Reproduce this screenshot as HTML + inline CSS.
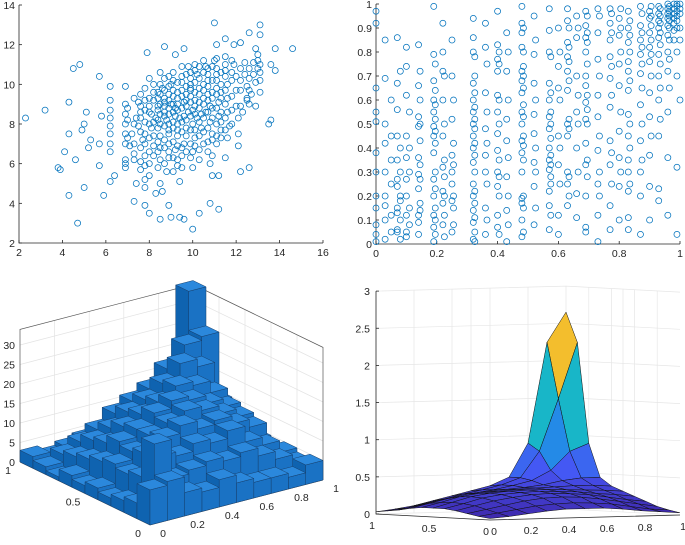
<!DOCTYPE html>
<html><head><meta charset="utf-8"><style>
html,body{margin:0;padding:0;background:#fff;}
svg{display:block;font-family:"Liberation Sans",sans-serif;}
text{font-size:10.5px;fill:#262626;}
</style></head>
<body>
<svg id="fig" width="685" height="545" viewBox="0 0 685 545">
<g id="p1"></g>
<g id="p2"></g>
<g id="p3"></g>
<g id="p4"></g>
</svg>
<script>
// ---------- DATA ----------
const s1X = [2.3,3.2,3.8,3.9,4.1,4.3,4.3,4.3,4.5,4.6,4.7,4.8,4.9,5.0,5.0,5.1,5.2,5.3,5.7,5.7,5.8,5.9,5.7,6.4,6.2,7.3,7.9,8.7,9.2,9.6,11.0,13.1,12.6,13.1,13.8,14.6,13.6,13.8,13.5,13.6,12.6,12.2,11.2,10.8,10.3,10.0,9.6,9.4,9.0,8.5,8.0,7.8,8.3,8.9,8.6,11.5,11.2,10.9,12.1,11.5,12.5,12.9,13.1,12.9,12.2,11.9,11.1,
6.2,6.2,6.2,6.2,6.2,6.2,6.2,6.2,6.9,6.9,6.9,6.9,6.9,6.9,6.9,6.9,6.9,7.8,7.8,7.8,7.8,7.8,7.8,7.8,7.8,7.8,7.8,8.5,8.5,8.5,8.5,8.5,8.5,8.5,8.5,8.5,8.5,
7.2,7.4,7.5,7.1,7.3,7.6,7.4,8.0,8.1,8.2,8.2,8.0,8.3,8.7,8.8,8.9,8.9,8.8,9.0,9.1,9.2,9.1,9.3,9.2,9.3,9.4,9.5,9.5,9.6,9.6,9.7,9.6,9.5,9.8,9.9,9.9,10.0,10.0,10.1,10.0,10.0,10.2,10.3,10.3,10.4,10.4,10.5,10.3,10.6,10.7,10.7,10.8,10.8,10.9,10.7,10.8,11.0,11.1,11.1,11.2,11.2,11.3,11.1,11.5,11.5,11.6,11.6,11.6,11.7,11.6,11.9,12.0,12.0,12.0,12.1,12.1,12.4,12.4,12.5,12.5,12.3,12.8,12.8,12.9,12.7,13.1,13.1,13.1,
8.6,8.4,8.9,9.3,9.4,9.8,9.9,10.1,10.5,10.6,10.2,9.7,9.0,9.2,8.7,8.4,8.1,7.6,7.5,7.7];
const s1Y = [8.3,8.7,5.8,5.7,6.6,7.5,9.1,4.4,10.8,6.2,3.0,11.0,7.7,8.0,4.8,8.6,6.8,7.2,10.4,5.9,8.4,4.4,7.0,5.4,5.1,4.1,11.6,11.9,11.5,11.8,13.1,13.0,12.6,12.5,11.8,11.8,11.0,10.7,8.0,8.2,5.8,5.6,3.7,4.0,3.5,2.7,3.2,3.3,3.3,3.2,3.5,3.9,4.5,3.9,4.6,6.3,5.4,5.4,6.9,12.3,9.2,8.9,9.6,11.8,12.1,12.0,12.0,
9.9,9.2,8.7,8.3,7.9,7.5,7.0,6.6,9.9,9.0,8.5,8.0,7.5,7.0,6.2,6.0,5.8,9.8,9.2,8.7,8.1,7.5,7.0,6.4,5.9,5.2,4.8,10.6,10.0,9.5,9.0,8.5,8.0,7.4,6.8,6.2,5.0,
7.5,8.3,9.1,6.9,6.2,5.7,5.0,8.9,7.8,6.9,9.6,10.3,8.3,9.1,8.2,7.5,6.3,5.6,10.0,9.4,8.8,8.1,7.4,6.7,5.9,5.1,10.4,9.7,9.1,8.4,7.8,7.0,6.4,10.9,10.0,9.4,8.7,8.0,7.3,6.6,5.8,10.5,9.8,9.1,8.5,7.8,7.0,6.2,10.9,10.2,9.5,8.9,8.1,7.5,6.6,6.0,11.2,10.5,9.8,9.1,8.4,7.7,7.0,11.4,10.7,10.0,9.3,8.6,7.9,7.3,11.0,10.4,9.7,8.9,8.3,7.5,11.1,10.5,9.9,9.3,8.6,11.1,10.5,10.1,9.5,11.0,10.6,10.2,
9.8,8.9,8.8,9.6,8.3,8.6,9.8,9.2,9.3,8.6,8.3,9.9,9.0,8.4,8.6,7.8,8.5,8.6,7.9,7.2];
// extra dense-core points, grouped by x
const s1ColX2 = [7.0,7.3,7.6,8.0,8.2,8.4,8.7,8.9,9.1,9.3,9.5,9.7,9.9,10.1,10.3,10.5,10.7,10.9,11.1,11.3,11.5,11.8,12.2,12.6,13.0];
const s1ColY2 = [
[8.2,8.8,7.3],[9.3,8.0,7.0,6.5],[9.5,8.9,8.3,7.6,6.8,6.1],[9.3,8.6,8.0,7.3,6.6,6.0,5.4],[10.0,9.2,8.1,7.4,6.4],
[9.6,9.3,8.7,8.2,7.1,6.6,5.8],[10.3,9.7,9.3,8.9,8.4,7.9,7.2,6.8,6.0],[10.4,9.9,9.5,9.2,8.5,8.0,7.7,7.0,6.6],
[10.6,10.2,9.7,9.0,8.6,7.8,7.1,6.3,5.6],[10.1,9.3,9.0,8.7,8.0,7.7,6.9,6.2],[10.9,10.1,9.4,8.8,8.1,7.6,6.8,5.8],
[10.5,9.5,9.2,8.9,8.2,7.4,6.6],[10.6,10.3,9.7,9.1,8.4,7.7,7.0,6.3],[11.0,10.7,10.1,9.6,8.9,8.5,7.7,6.9],
[10.9,10.3,9.5,8.8,8.1,7.4,6.7],[11.2,10.6,10.0,9.7,9.0,8.3,7.6],[10.8,10.5,9.9,9.2,8.6,7.8,7.1],
[10.9,10.2,9.6,9.3,8.8,8.3,7.2,6.4],[11.3,10.8,10.2,9.5,8.8,8.0,7.4],[10.6,10.0,9.6,9.3,8.6,8.1,7.3],
[11.0,10.4,9.7,9.0,8.3,7.7],[11.2,10.6,10.2,9.4,8.7,8.0],[10.8,10.2,9.7,8.9],[10.8,10.3,9.7,9.0],[11.5,11.2,10.8]];
const s1XTicks = [2,4,6,8,10,12,14,16];
const s1YTicks = [2,4,6,8,10,12,14];

const s2ColX = [0.0,0.03,0.07,0.1,0.14,0.19,0.22,0.25,0.32,0.36,0.40,0.43,0.48,0.52,0.57,0.6,0.63,0.66,0.69,0.73,0.77,0.8,0.83,0.87,0.9,0.93,0.96,0.99];
const s2ColY = [
[0.97,0.65,0.51,0.38,0.15,0.04,0.01],
[0.85,0.69,0.5,0.42,0.3,0.2,0.16,0.1,0.02],
[0.86,0.67,0.56,0.45,0.35,0.27,0.24,0.15,0.13,0.06,0.05],
[0.82,0.74,0.62,0.45,0.36,0.27,0.2,0.12,0.05,0.03],
[0.83,0.66,0.53,0.49,0.36,0.29,0.23,0.12,0.09,0.04],
[0.99,0.79,0.68,0.6,0.55,0.49,0.45,0.38,0.27,0.2,0.12,0.07,0.01],
[0.92,0.8,0.72,0.6,0.45,0.32,0.22,0.17,0.08],
[0.85,0.7,0.52,0.37,0.3,0.25,0.18,0.05],
[0.94,0.86,0.8,0.67,0.6,0.55,0.5,0.45,0.4,0.34,0.25,0.2,0.14,0.09,0.02],
[0.92,0.82,0.63,0.48,0.37,0.3,0.15,0.04],
[0.97,0.83,0.77,0.72,0.62,0.55,0.46,0.39,0.3,0.24,0.12,0.07],
[0.88,0.72,0.52,0.43,0.28,0.14,0.01],
[0.99,0.92,0.88,0.82,0.72,0.68,0.63,0.55,0.5,0.43,0.38,0.3,0.19,0.17,0.1,0.03],
[0.95,0.79,0.67,0.54,0.46,0.34,0.24,0.08],
[0.98,0.89,0.8,0.67,0.6,0.53,0.48,0.4,0.35,0.31,0.22,0.16,0.06],
[0.9,0.74,0.65,0.45,0.33,0.12,0.04],
[0.98,0.93,0.84,0.78,0.72,0.64,0.5,0.45,0.3,0.25,0.16],
[0.95,0.86,0.7,0.55,0.4,0.21,0.11],
[0.97,0.91,0.86,0.8,0.7,0.66,0.59,0.52,0.42,0.33,0.2,0.07,0.05],
[0.98,0.88,0.77,0.62,0.53,0.39,0.25,0.12,0.01],
[0.98,0.92,0.85,0.78,0.69,0.57,0.43,0.33,0.16,0.06],
[0.94,0.87,0.75,0.66,0.47,0.36,0.24,0.1],
[0.97,0.9,0.84,0.76,0.72,0.64,0.54,0.45,0.35,0.3,0.22,0.11,0.06],
[0.99,0.91,0.85,0.79,0.71,0.58,0.43,0.3,0.2,0.04],
[0.97,0.94,0.88,0.82,0.76,0.63,0.53,0.37,0.24,0.1],
[0.99,0.96,0.93,0.9,0.86,0.79,0.7,0.6,0.45,0.23,0.18],
[1,0.98,0.96,0.94,0.91,0.87,0.8,0.72,0.55,0.36,0.12],
[1,0.99,0.97,0.95,0.93,0.9,0.8,0.7,0.32,0.04]];
const s2bColX = [0.0,0.05,0.08,0.11,0.145,0.195,0.225,0.255,0.325,0.365,0.405,0.435,0.485,0.525,0.575,0.605,0.635,0.665,0.695,0.735,0.775,0.805,0.835,0.875,0.905,0.935,0.965,0.98,1.0];
const s2bColY = [
[0.92,0.55,0.3,0.2,0.08],
[0.6,0.45,0.35,0.25,0.12,0.05],
[0.72,0.4,0.3,0.2,0.18,0.1,0.02],
[0.55,0.4,0.3,0.15,0.08],
[0.72,0.6,0.5,0.43,0.33,0.27,0.17,0.14],
[0.75,0.64,0.58,0.52,0.47,0.42,0.3,0.23,0.15,0.1,0.04],
[0.7,0.5,0.35,0.28,0.2,0.12,0.03],
[0.6,0.42,0.33,0.2,0.15,0.08],
[0.78,0.7,0.63,0.57,0.52,0.48,0.42,0.37,0.3,0.22,0.17,0.11,0.05,0.01],
[0.75,0.55,0.42,0.25,0.1],
[0.8,0.75,0.6,0.5,0.35,0.28,0.2,0.04],
[0.8,0.6,0.36,0.2,0.08],
[0.9,0.8,0.74,0.7,0.65,0.58,0.53,0.45,0.41,0.35,0.2,0.15,0.05],
[0.85,0.6,0.4,0.3,0.15],
[0.78,0.63,0.55,0.5,0.44,0.37,0.33,0.28,0.25,0.12],
[0.8,0.6,0.4,0.25],
[0.9,0.82,0.76,0.68,0.52,0.48,0.28,0.2],
[0.9,0.62,0.5,0.3],
[0.95,0.88,0.84,0.75,0.62,0.56,0.5,0.35,0.28],
[0.95,0.7,0.45,0.3,0.2],
[0.96,0.88,0.74,0.62,0.38,0.25],
[0.98,0.9,0.8,0.55,0.3],
[0.93,0.87,0.8,0.68,0.5,0.4,0.25],
[0.96,0.88,0.82,0.75,0.65,0.5,0.35],
[0.99,0.95,0.91,0.85,0.79,0.7,0.45],
[0.98,0.95,0.92,0.88,0.83,0.75,0.65,0.52],
[0.99,0.97,0.95,0.93,0.9,0.85,0.77,0.65],
[1,0.98,0.96,0.94,0.92,0.89,0.85],
[1,0.98,0.96,0.9,0.85,0.6]];
const s2XTicks = [0,0.2,0.4,0.6,0.8,1];
const s2YTicks = [0,0.1,0.2,0.3,0.4,0.5,0.6,0.7,0.8,0.9,1];

// histogram counts: rows = y bins, cols = x bins
const histCounts = [
[9,10,6,5,7,5,4,4,3,5],
[4,18,8,9,10,9,10,8,6,4],
[3,8,12,11,13,12,14,10,8,5],
[2,7,11,14,16,14,15,13,11,4],
[3,8,10,13,15,17,16,14,12,5],
[2,7,11,13,16,18,17,15,13,6],
[3,6,9,12,14,16,19,18,15,8],
[1,5,8,10,13,15,18,22,20,10],
[2,4,6,8,11,13,15,19,24,25],
[3,2,3,4,5,6,8,10,14,35]];
const histZTicks = [0,5,10,15,20,25,30];
const histXTicks = [0,0.2,0.4,0.6,0.8,1];
const histYTicks = [0,0.5,1];

// surface heights: rows = y (0..1 step .1), cols = x
const surfZ = [
[0.02,0.04,0.07,0.10,0.12,0.12,0.12,0.10,0.07,0.05,0.03],
[0.04,0.08,0.12,0.16,0.18,0.19,0.18,0.16,0.12,0.08,0.06],
[0.07,0.12,0.17,0.22,0.25,0.26,0.25,0.22,0.18,0.14,0.10],
[0.10,0.16,0.22,0.26,0.29,0.30,0.29,0.27,0.23,0.19,0.16],
[0.12,0.18,0.25,0.29,0.31,0.32,0.31,0.30,0.27,0.25,0.22],
[0.12,0.19,0.26,0.30,0.32,0.33,0.33,0.32,0.31,0.30,0.28],
[0.12,0.18,0.25,0.29,0.31,0.33,0.34,0.35,0.36,0.36,0.34],
[0.10,0.16,0.22,0.27,0.30,0.32,0.34,0.37,0.42,0.45,0.45],
[0.07,0.12,0.18,0.22,0.27,0.31,0.36,0.42,0.55,0.80,0.90],
[0.05,0.08,0.14,0.19,0.25,0.30,0.36,0.45,0.80,1.50,2.25],
[0.03,0.06,0.10,0.16,0.22,0.28,0.34,0.45,0.90,2.25,2.65]];
const surfZTicks = [0,0.5,1,1.5,2,2.5,3];
const surfZTickLabels = ['0','0.5','1','1.5','2','2.5','3'];
const surfXTicks = [0,0.2,0.4,0.6,0.8,1];
const surfYTicks = [0,0.5,1];

// ---------- HELPERS ----------
const NS='http://www.w3.org/2000/svg';
function mk(parent,tag,attrs){const e=document.createElementNS(NS,tag);for(const k in attrs)e.setAttribute(k,attrs[k]);parent.appendChild(e);return e;}
function txt(parent,x,y,s,anchor){const t=mk(parent,'text',{x:x,y:y,'text-anchor':anchor||'middle'});t.textContent=s;return t;}

// ---------- PLOT 1 ----------
(function(){
const g=document.getElementById('p1');
const sx=v=>19+(v-2)*(304/14), sy=v=>243-(v-2)*(238/12);
let l=mk(g,'path',{d:`M${sx(2)},${sy(14)}V${sy(2)}H${sx(16)}`,fill:'none',stroke:'#262626','stroke-width':0.8});


s1XTicks.forEach(v=>{mk(g,'line',{x1:sx(v),x2:sx(v),y1:sy(2),y2:sy(2)-3,stroke:'#262626','stroke-width':0.8});const t=txt(g,sx(v),sy(2)+13,String(v));});
s1YTicks.forEach(v=>{mk(g,'line',{x1:sx(2),x2:sx(2)+3,y1:sy(v),y2:sy(v),stroke:'#262626','stroke-width':0.8});const t=txt(g,sx(2)-4,sy(v)+4,String(v),'end');});
function dot(x,y){const c=mk(g,'circle',{cx:sx(x),cy:sy(y),r:3,fill:'none',stroke:'#0072BD','stroke-width':0.75});

}
for(let i=0;i<s1X.length;i++)dot(s1X[i],s1Y[i]);
s1ColX2.forEach((x,ci)=>s1ColY2[ci].forEach(y=>dot(x,y)));
})();

// ---------- PLOT 2 ----------
(function(){
const g=document.getElementById('p2');
const sx=v=>376+v*304, sy=v=>244-v*240;
let l=mk(g,'path',{d:`M${sx(0)},${sy(1)}V${sy(0)}H${sx(1)}`,fill:'none',stroke:'#262626','stroke-width':0.8});


s2XTicks.forEach(v=>{mk(g,'line',{x1:sx(v),x2:sx(v),y1:sy(0),y2:sy(0)-3,stroke:'#262626','stroke-width':0.8});const t=txt(g,sx(v),sy(0)+13,String(v));});
s2YTicks.forEach(v=>{mk(g,'line',{x1:sx(0),x2:sx(0)+3,y1:sy(v),y2:sy(v),stroke:'#262626','stroke-width':0.8});const t=txt(g,sx(0)-4,sy(v)+4,String(v),'end');});
function dot(x,y){const c=mk(g,'circle',{cx:sx(x),cy:sy(y),r:3,fill:'none',stroke:'#0072BD','stroke-width':0.75});

}
s2ColX.forEach((x,ci)=>s2ColY[ci].forEach(y=>dot(x,y)));
s2bColX.forEach((x,ci)=>s2bColY[ci].forEach(y=>dot(x,y)));
})();

// ---------- PLOT 3: 3D histogram ----------
(function(){
const g=document.getElementById('p3');
const ZK=3.9, ZMAX=34;
const P=(x,y,z)=>[150+173*x-130*y, 525-45*x-63*y-ZK*z];
const pt=a=>a[0].toFixed(1)+','+a[1].toFixed(1);
const grid='#e3e3e3';
histZTicks.forEach(z=>{mk(g,'polyline',{points:[P(0,1,z),P(1,1,z),P(1,0,z)].map(pt).join(' '),fill:'none',stroke:grid,'stroke-width':0.7});});
[0.2,0.4,0.6,0.8].forEach(v=>{
 mk(g,'line',{x1:P(v,1,0)[0],y1:P(v,1,0)[1],x2:P(v,1,ZMAX)[0],y2:P(v,1,ZMAX)[1],stroke:grid,'stroke-width':0.7});
 mk(g,'line',{x1:P(1,v,0)[0],y1:P(1,v,0)[1],x2:P(1,v,ZMAX)[0],y2:P(1,v,ZMAX)[1],stroke:grid,'stroke-width':0.7});
 mk(g,'line',{x1:P(v,0,0)[0],y1:P(v,0,0)[1],x2:P(v,1,0)[0],y2:P(v,1,0)[1],stroke:grid,'stroke-width':0.7});
 mk(g,'line',{x1:P(0,v,0)[0],y1:P(0,v,0)[1],x2:P(1,v,0)[0],y2:P(1,v,0)[1],stroke:grid,'stroke-width':0.7});
});
const box=mk(g,'path',{d:`M${pt(P(0,1,0))}L${pt(P(0,1,ZMAX))}L${pt(P(1,1,ZMAX))}L${pt(P(1,0,ZMAX))}L${pt(P(1,0,0))}M${pt(P(1,1,0))}L${pt(P(1,1,ZMAX))}M${pt(P(0,1,0))}L${pt(P(0,0,0))}L${pt(P(1,0,0))}`,fill:'none',stroke:'#555','stroke-width':0.7});


const n=histCounts.length, cells=[];
for(let j=0;j<n;j++)for(let i=0;i<n;i++)cells.push([i,j]);
cells.sort((a,b)=>(b[0]+b[1])-(a[0]+a[1]));
cells.forEach(([i,j])=>{
 const h=histCounts[j][i]; if(!h)return;
 const x0=i/n,x1=(i+1)/n,y0=j/n,y1=(j+1)/n;
 const bg=mk(g,'g',{});
 
 
 const st={stroke:'#16406e','stroke-width':0.5,'stroke-linejoin':'round'};
 mk(bg,'polygon',Object.assign({points:[P(x0,y0,0),P(x0,y1,0),P(x0,y1,h),P(x0,y0,h)].map(pt).join(' '),fill:'#0f63b0'},st));
 mk(bg,'polygon',Object.assign({points:[P(x0,y0,0),P(x1,y0,0),P(x1,y0,h),P(x0,y0,h)].map(pt).join(' '),fill:'#1a72c4'},st));
 mk(bg,'polygon',Object.assign({points:[P(x0,y0,h),P(x1,y0,h),P(x1,y1,h),P(x0,y1,h)].map(pt).join(' '),fill:'#2b88dc'},st));
});
histZTicks.forEach(z=>{const p=P(0,1,z);const t=txt(g,p[0]-5,p[1]+4,String(z),'end');});
histXTicks.forEach(x=>{const p=P(x,0,0);const t=txt(g,p[0]+13,p[1]+12,String(x));});
histYTicks.forEach(y=>{const p=P(0,y,0);const t=txt(g,p[0]-12,p[1]+12,String(y));});
})();

// ---------- PLOT 4: surface ----------
(function(){
const g=document.getElementById('p4');
const ZK=74.3, ZMAX=3;
const P=(x,y,z)=>[490+190*x-114*y, 520-5*x-6*y-ZK*z];
const pt=a=>a[0].toFixed(1)+','+a[1].toFixed(1);
const grid='#e6e6e6';
surfZTicks.forEach(z=>{mk(g,'polyline',{points:[P(0,1,z),P(1,1,z),P(1,0,z)].map(pt).join(' '),fill:'none',stroke:grid,'stroke-width':0.7});});
[0.2,0.4,0.6,0.8,0.5].forEach(v=>{
 mk(g,'line',{x1:P(v,1,0)[0],y1:P(v,1,0)[1],x2:P(v,1,ZMAX)[0],y2:P(v,1,ZMAX)[1],stroke:grid,'stroke-width':0.7});
 mk(g,'line',{x1:P(1,v,0)[0],y1:P(1,v,0)[1],x2:P(1,v,ZMAX)[0],y2:P(1,v,ZMAX)[1],stroke:grid,'stroke-width':0.7});
});
mk(g,'line',{x1:P(1,1,0)[0],y1:P(1,1,0)[1],x2:P(1,1,ZMAX)[0],y2:P(1,1,ZMAX)[1],stroke:grid,'stroke-width':0.7});
const ax=mk(g,'path',{d:`M${pt(P(0,1,ZMAX))}L${pt(P(0,1,0))}L${pt(P(0,0,0))}L${pt(P(1,0,0))}`,fill:'none',stroke:'#262626','stroke-width':0.8});


const stops=[[0,[62,38,168]],[0.2,[70,85,245]],[0.35,[35,140,230]],[0.5,[20,180,205]],[0.62,[50,195,160]],[0.72,[150,200,80]],[0.8,[242,185,48]],[1,[249,251,14]]];
function parula(t){t=Math.max(0,Math.min(1,t));for(let k=1;k<stops.length;k++){if(t<=stops[k][0]){const a=stops[k-1],b=stops[k],f=(t-a[0])/(b[0]-a[0]);return 'rgb('+a[1].map((c,q)=>Math.round(c+(b[1][q]-c)*f)).join(',')+')';}}return 'rgb(249,251,14)';}
const n=surfZ.length-1; let zmax=0; surfZ.forEach(r=>r.forEach(v=>zmax=Math.max(zmax,v)));
const cells=[];for(let j=0;j<n;j++)for(let i=0;i<n;i++)cells.push([i,j]);
cells.sort((a,b)=>(b[0]+b[1])-(a[0]+a[1]));
cells.forEach(([i,j])=>{
 const x0=i/n,x1=(i+1)/n,y0=j/n,y1=(j+1)/n;
 const z00=surfZ[j][i],z10=surfZ[j][i+1],z01=surfZ[j+1][i],z11=surfZ[j+1][i+1];
 const m=(z00+z10+z01+z11)/4;
 const q=mk(g,'polygon',{points:[P(x0,y0,z00),P(x1,y0,z10),P(x1,y1,z11),P(x0,y1,z01)].map(pt).join(' '),fill:parula(m/zmax),stroke:'#111','stroke-width':0.5,'stroke-linejoin':'round'});
 
 
});
surfZTicks.forEach((z,k)=>{const p=P(0,1,z);mk(g,'line',{x1:p[0],y1:p[1],x2:p[0]+3,y2:p[1],stroke:'#262626','stroke-width':0.8});const t=txt(g,p[0]-6,p[1]+4,surfZTickLabels[k],'end');});
surfXTicks.forEach(x=>{const p=P(x,0,0);const t=txt(g,p[0]+(x===0?4:3),p[1]+15,String(x));});
surfYTicks.forEach(y=>{const p=P(0,y,0);const t=txt(g,p[0]-4,p[1]+15,String(y));});
})();
</script>
</body></html>
